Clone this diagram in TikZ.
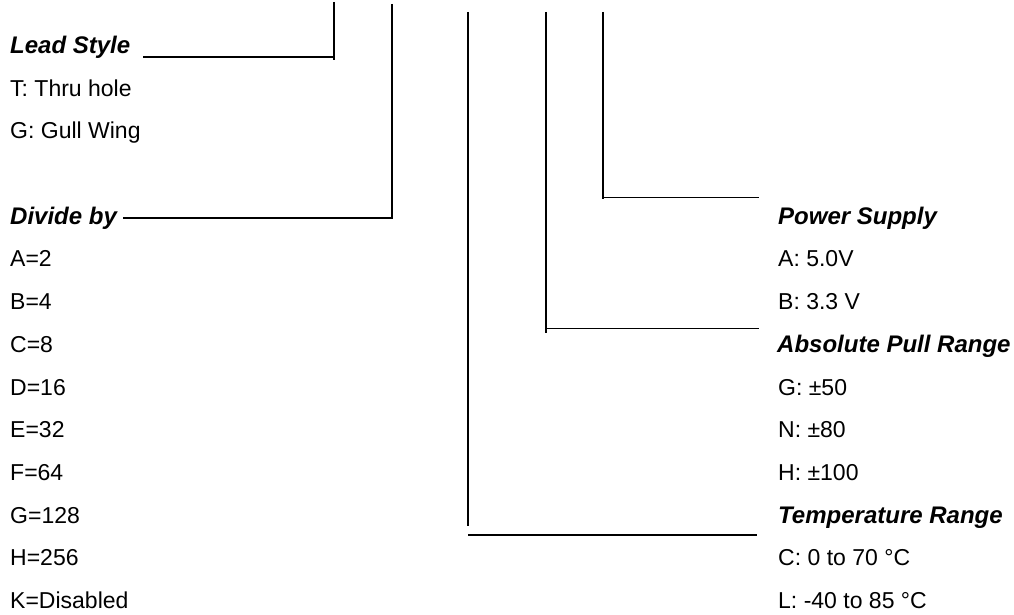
\documentclass[tikz,border=0pt]{standalone}
\usepackage{fontspec}
\setmainfont{Liberation Sans}
\begin{document}
\begin{tikzpicture}[x=1bp,y=-1bp,
  lbl/.style={anchor=base west,inner sep=0pt,font=\fontsize{23bp}{27bp}\selectfont},
  hdr/.style={anchor=base west,inner sep=0pt,font=\fontsize{24bp}{28bp}\selectfont\bfseries\itshape},
  ln/.style={line width=1.8bp,line cap=butt}]
\useasboundingbox (0,0) rectangle (1014,615);
\def\rowy#1{53.5+42.7*#1}
% left column
\node[hdr] (lead) at (10,{\rowy{0}}) {Lead Style};
\node[lbl] (lt) at (10,{\rowy{1}}) {T: Thru hole};
\node[lbl] (lg) at (10,{\rowy{2}}) {G: Gull Wing};
\node[hdr] (div) at (10,{\rowy{4}}) {Divide by};
\node[lbl] (d1) at (10,{\rowy{5}}) {A=2};
\node[lbl] (d2) at (10,{\rowy{6}}) {B=4};
\node[lbl] (d3) at (10,{\rowy{7}}) {C=8};
\node[lbl] (d4) at (10,{\rowy{8}}) {D=16};
\node[lbl] (d5) at (10,{\rowy{9}}) {E=32};
\node[lbl] (d6) at (10,{\rowy{10}}) {F=64};
\node[lbl] (d7) at (10,{\rowy{11}}) {G=128};
\node[lbl] (d8) at (10,{\rowy{12}}) {H=256};
\node[lbl] (d9) at (10,{\rowy{13}}) {K=Disabled};
% right column
\node[hdr] (pow) at (778,{\rowy{4}}) {Power Supply};
\node[lbl] (p1) at (778,{\rowy{5}}) {A: 5.0V};
\node[lbl] (p2) at (778,{\rowy{6}}) {B: 3.3 V};
\node[hdr] (pull) at (777,{\rowy{7}}) {Absolute Pull Range};
\node[lbl] (r1) at (778,{\rowy{8}}) {G: ±50};
\node[lbl] (r2) at (778,{\rowy{9}}) {N: ±80};
\node[lbl] (r3) at (778,{\rowy{10}}) {H: ±100};
\node[hdr] (temp) at (778,{\rowy{11}}) {Temperature Range};
\node[lbl] (t1) at (778,{\rowy{12}}) {C: 0 to 70 °C};
\node[lbl] (t2) at (778,{\rowy{13}}) {L: -40 to 85 °C};
% connector coordinates
\coordinate (leadtop) at (334,2);
\coordinate (leadbot) at (334,60.5);
\coordinate (leadc) at (334,56.7);
\coordinate (leadend) at (143,56.7);
\coordinate (divtop) at (392,4);
\coordinate (divc) at (392,218);
\coordinate (divend) at (123,218);
\coordinate (temptop) at (468,12);
\coordinate (tempbot) at (468,526);
\coordinate (temph1) at (468,535);
\coordinate (temph2) at (757,535);
\coordinate (pulltop) at (546,12);
\coordinate (pullbot) at (546,333);
\coordinate (pullc) at (546,328.5);
\coordinate (pullend) at (759,328.5);
\coordinate (powtop) at (603,12);
\coordinate (powbot) at (603,199);
\coordinate (powc) at (603,197.5);
\coordinate (powend) at (759,197.5);
% connectors
\draw[ln] (leadtop) -- (leadbot);
\draw[ln] (leadc) -- (leadend);
\draw[ln] (divtop) -- (divc) -- (divend);
\draw[ln] (temptop) -- (tempbot);
\draw[ln] (temph1) -- (temph2);
\draw[ln] (pulltop) -- (pullbot);
\draw[ln] (pullc) -- (pullend);
\draw[ln] (powtop) -- (powbot);
\draw[ln] (powc) -- (powend);
\end{tikzpicture}
\end{document}
